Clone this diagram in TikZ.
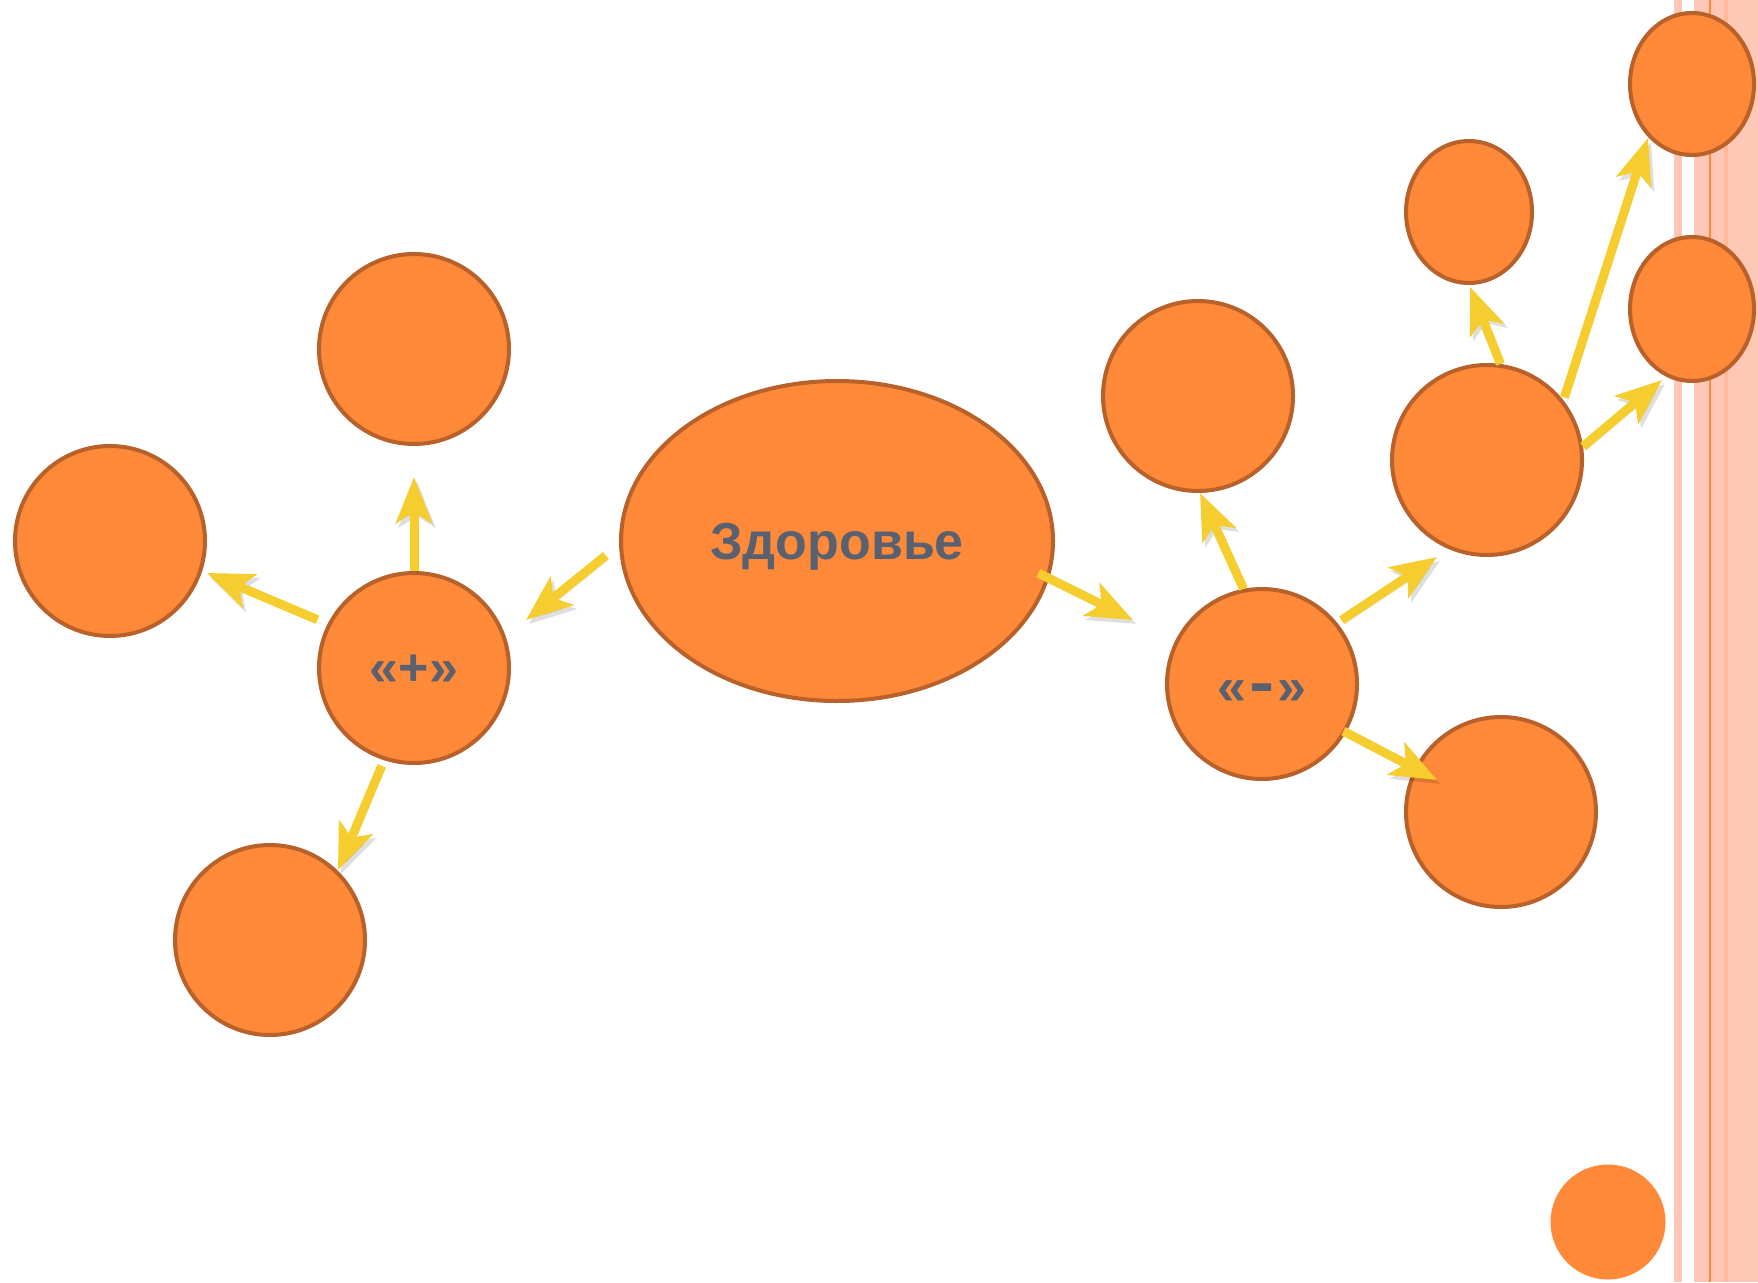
\documentclass[tikz,border=0pt]{standalone}
\usepackage{fontspec}
\setmainfont{Liberation Sans}
\usetikzlibrary{arrows.meta,shapes.geometric}
\definecolor{orf}{RGB}{254,137,56}
\definecolor{orb}{RGB}{185,97,43}
\definecolor{ylw}{RGB}{245,205,47}
\definecolor{txtc}{RGB}{89,97,112}
\definecolor{pnk}{RGB}{255,199,181}
\definecolor{pnkd}{RGB}{253,185,154}
\tikzset{
  bub/.style={draw=orb, fill=orf, line width=4pt, inner sep=0pt},
  circ/.style={bub, circle, minimum size=190pt},
  lbl/.style={font=\bfseries\fontsize{52}{60}\selectfont, text=txtc},
  arr/.style={draw=ylw, line width=9pt,
    -{Stealth[length=46pt,width=36pt,inset=11pt]},
    preaction={draw=black, opacity=0.13, transform canvas={shift={(3pt,-4pt)}}}},
}
\begin{document}
\begin{tikzpicture}[x=1pt,y=-1pt]
\useasboundingbox (0,0) rectangle (1758,1282);
\fill[white] (0,0) rectangle (1758,1282);
% stripes
\fill[pnk] (1674,0) rectangle (1682,1282);
\fill[pnk] (1694,0) rectangle (1758,1282);
\fill[pnkd] (1724,0) rectangle (1728,1282);
\fill[orf] (1709,0) rectangle (1711,1282);
% nodes
\node[bub, ellipse, minimum width=432pt, minimum height=320pt, lbl, text depth=0pt, text height=37pt] (zd) at (837,541) {Здоровье};
\node[circ, lbl, text depth=0pt, text height=35pt] (plus) at (414,668) {«+»};
\node[circ] (pt) at (414,349) {};
\node[circ] (pl) at (110,541) {};
\node[circ] (pb) at (270,940) {};
\node[circ, lbl, text depth=0pt, text height=40pt] (minus) at (1262,684) {«\kern3pt\scalebox{1.45}[1.25]{-}\kern3pt»};
\node[circ] (mt) at (1198,396) {};
\node[circ] (mr) at (1487,460) {};
\node[circ] (mb) at (1501,812) {};
\node[bub, ellipse, minimum width=126pt, minimum height=142pt] (ms) at (1469,212) {};
\node[bub, ellipse, minimum width=124pt, minimum height=142pt] (rt) at (1692,84) {};
\node[bub, ellipse, minimum width=124pt, minimum height=144pt] (rm) at (1692,309) {};
\node[circle, fill=orf, minimum size=115pt, inner sep=0pt] (dot) at (1608,1222) {};
% arrow ends
\coordinate (e1) at (526,620);
\coordinate (e2) at (414,477);
\coordinate (e3) at (207,573);
\coordinate (e4) at (338,870);
\coordinate (e5) at (1133,620);
\coordinate (e6) at (1200,493);
\coordinate (e7) at (1437,557);
\coordinate (e8) at (1437,780);
\coordinate (e9) at (1470,287);
\coordinate (e10) at (1648,138);
\coordinate (e11) at (1662,380);
% arrows
\draw[arr, shorten <=17pt] (zd.181) -- (e1);
\draw[arr] (plus.90) -- (e2);
\draw[arr, shorten <=11pt] (plus.153) -- (e3);
\draw[arr, shorten <=6pt] (plus.252) -- (e4);
\draw[arr, shorten <=-12pt] (zd.-10.2) -- (e5);
\draw[arr] (minus.101) -- (e6);
\draw[arr, shorten <=5pt] (minus.39) -- (e7);
\draw[arr, shorten <=-3pt] (minus.-30) -- (e8);
\draw[arr] (mr.82) -- (e9);
\draw[arr, shorten <=3pt] (mr.38.6) -- (e10);
\draw[arr] (mr.8) -- (e11);
\end{tikzpicture}
\end{document}
